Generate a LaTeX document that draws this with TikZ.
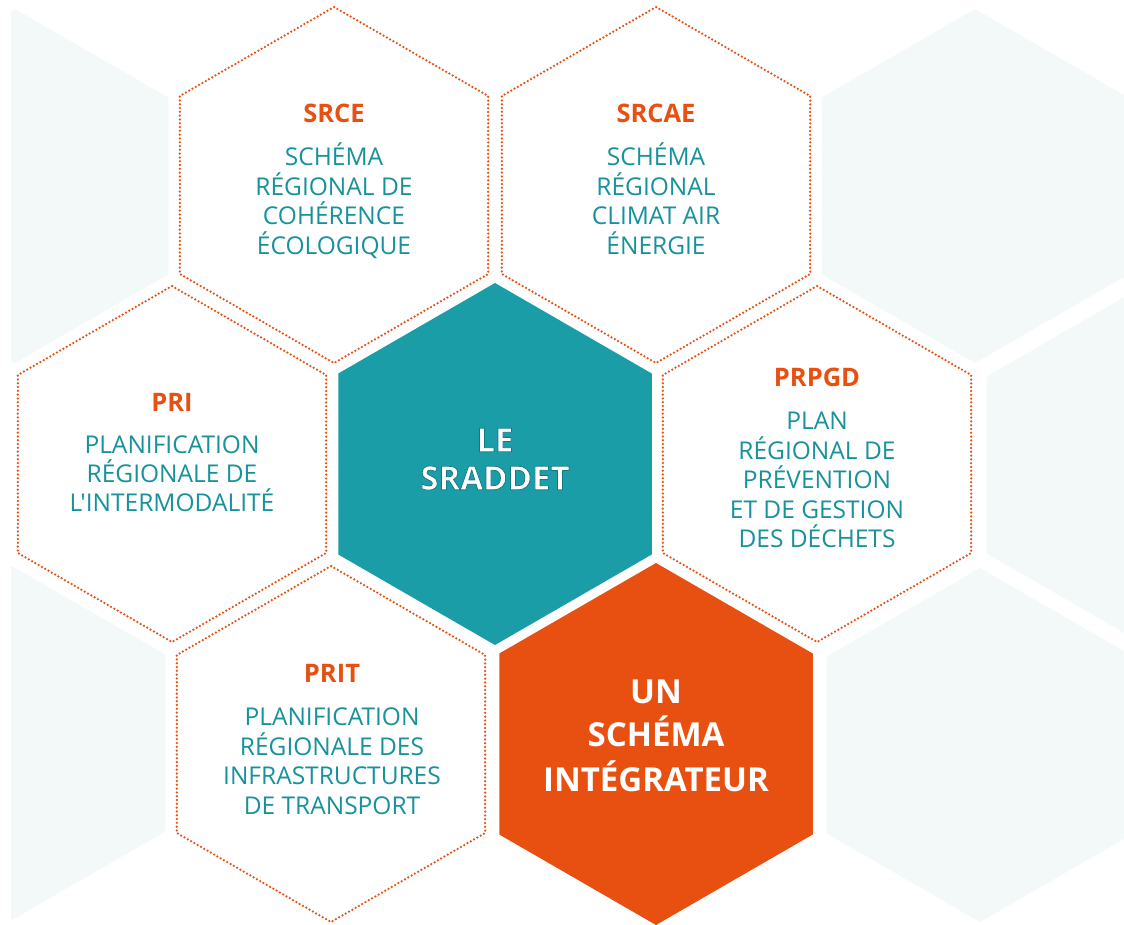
\documentclass[tikz,border=0pt]{standalone}
\usepackage{fontspec}
\setmainfont{Open Sans}
\newfontfamily\plainfont{Open Sans}
\usetikzlibrary{shapes.geometric}
\definecolor{orng}{HTML}{E85011}
\definecolor{tealf}{HTML}{1B9DA8}
\definecolor{tealt}{HTML}{17929C}
\definecolor{lite}{HTML}{F3F9F9}
\newcommand\myhalo[1]{\special{pdf:literal direct 0.07 0.47 0.51 RG 0.75 w 1 j 2 Tr}#1\special{pdf:literal direct 0 Tr}}
\begin{document}
\begin{tikzpicture}[x=1pt,y=-1pt,
  hexbase/.style={regular polygon, regular polygon sides=6, shape border rotate=30,
    inner sep=0pt, outer sep=0pt},
  hexlite/.style={hexbase, fill=lite, minimum size=354},
  hexdot/.style={hexbase, draw=orng, line width=2.5pt, dash pattern=on 0pt off 3.8pt,
    line cap=round, minimum size=356},
  hexfill/.style={hexbase, minimum size=362},
  ttl/.style={font=\bfseries\fontsize{25.5}{26}\selectfont, text=orng, anchor=base},
  bdy/.style={font=\fontsize{24.5}{25}\selectfont, text=tealt, anchor=base},
  big/.style={font=\bfseries\fontsize{33}{33}\selectfont, text=white, anchor=base}]
\useasboundingbox (0,0) rectangle (1124,924);
\fill[white] (0,0) rectangle (1124,924);
% light background hexagons
\begin{scope}
  \clip (11,0) rectangle (1124,924);
  \node[hexlite] (bgA) at (15,186) {};
  \node[hexlite] (bgB) at (975,186) {};
  \node[hexlite] (bgC) at (1140,465) {};
  \node[hexlite] (bgD) at (12,743) {};
  \node[hexlite] (bgE) at (980,745) {};
\end{scope}
% dotted hexagons
\node[hexdot] (srce) at (334,185) {};
\node[hexdot] (srcae) at (656,185) {};
\node[hexdot] (pri) at (172,464) {};
\node[hexdot] (prpgd) at (817,464) {};
\node[hexdot] (prit) at (331,744) {};
% filled hexagons
\node[hexfill, fill=tealf] (sraddet) at (495,464) {};
\node[hexfill, fill=orng] (integ) at (656,744) {};
% SRCE
\node[ttl] (srce-t) at (334,122.1) {SRCE};
\node[bdy] (srce-1) at (334,165.75) {SCHÉMA};
\node[bdy] (srce-2) at (334,195.25) {RÉGIONAL DE};
\node[bdy] (srce-3) at (334,224.75) {COHÉRENCE};
\node[bdy] (srce-4) at (334,254.25) {ÉCOLOGIQUE};
% SRCAE
\node[ttl] (srcae-t) at (656,122.1) {SRCAE};
\node[bdy] (srcae-1) at (656,165.75) {SCHÉMA};
\node[bdy] (srcae-2) at (656,195.25) {RÉGIONAL};
\node[bdy] (srcae-3) at (656,224.75) {CLIMAT AIR};
\node[bdy] (srcae-4) at (656,254.25) {ÉNERGIE};
% PRI
\node[ttl] (pri-t) at (172,411.1) {PRI};
\node[bdy] (pri-1) at (172,453.75) {PLANIFICATION};
\node[bdy] (pri-2) at (172,482.75) {RÉGIONALE DE};
\node[bdy] (pri-3) at (172,511.75) {\plainfont L'INTERMODALITÉ};
% PRPGD
\node[ttl] (prpgd-t) at (817,386.1) {PRPGD};
\node[bdy] (prpgd-1) at (817,429.75) {PLAN};
\node[bdy] (prpgd-2) at (817,459.25) {RÉGIONAL DE};
\node[bdy] (prpgd-3) at (817,488.75) {PRÉVENTION};
\node[bdy] (prpgd-4) at (817,518.25) {ET DE GESTION};
\node[bdy] (prpgd-5) at (817,547.75) {DES DÉCHETS};
% PRIT
\node[ttl] (prit-t) at (332,682.1) {PRIT};
\node[bdy] (prit-1) at (332,725.75) {PLANIFICATION};
\node[bdy] (prit-2) at (332,755.25) {RÉGIONALE DES};
\node[bdy] (prit-3) at (332,784.75) {INFRASTRUCTURES};
\node[bdy] (prit-4) at (332,814.25) {DE TRANSPORT};
% SRADDET
\node[big] (sraddet-1) at (495,451.8) {\myhalo{LE}};
\node[big] (sraddet-2) at (495,489.8) {\myhalo{SRADDET}};
% Un schema integrateur
\node[big] (integ-1) at (656,703.8) {UN};
\node[big] (integ-2) at (656,746.8) {SCHÉMA};
\node[big] (integ-3) at (656,791.8) {INTÉGRATEUR};
\end{tikzpicture}
\end{document}
